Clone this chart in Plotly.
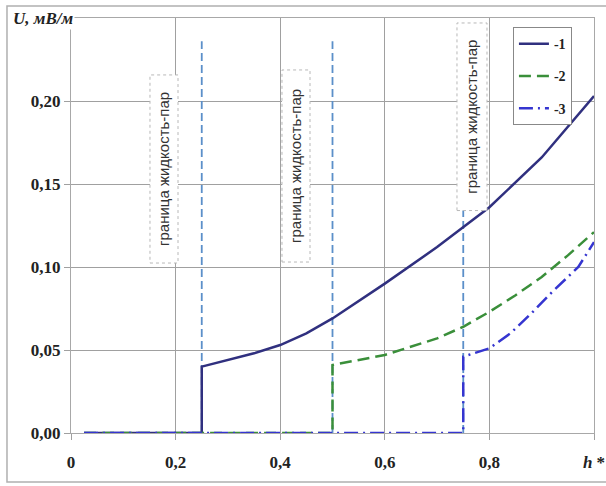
import plotly.graph_objects as go

# ---- data ----
h1 = [0.025, 0.25, 0.25, 0.30, 0.35, 0.40, 0.45, 0.50, 0.60, 0.70, 0.75, 0.80, 0.90, 1.00]
u1 = [0.0, 0.0, 0.040, 0.044, 0.048, 0.053, 0.060, 0.069, 0.090, 0.112, 0.124, 0.136, 0.166, 0.203]

h2 = [0.025, 0.50, 0.50, 0.60, 0.70, 0.75, 0.80, 0.85, 0.90, 0.95, 1.00]
u2 = [0.0, 0.0, 0.041, 0.047, 0.057, 0.064, 0.073, 0.083, 0.094, 0.107, 0.121]

h3 = [0.025, 0.75, 0.75, 0.80, 0.84, 0.88, 0.92, 0.97, 1.00]
u3 = [0.0, 0.0, 0.046, 0.051, 0.060, 0.072, 0.085, 0.100, 0.115]

series_names = ["-1", "-2", "-3"]
boundaries = [0.25, 0.50, 0.75]
boundary_top = 0.236
boundary_label = "граница жидкость-пар"

x_tickvals = [0, 0.2, 0.4, 0.6, 0.8, 1.0]
x_ticktext = ["0", "0,2", "0,4", "0,6", "0,8", "<i>h</i> *"]
y_tickvals = [0, 0.05, 0.10, 0.15, 0.20]
y_ticktext = ["0,00", "0,05", "0,10", "0,15", "0,20"]
y_title = "<b><i>U, мВ/м</i></b>"

# ---- figure ----
fig = go.Figure()

c1, c2, c3 = "#30307f", "#3a8f3a", "#3535d0"
fig.add_trace(go.Scatter(x=h1, y=u1, mode="lines", name=series_names[0], legendgroup="a",
                         line=dict(color=c1, width=2.5)))
fig.add_trace(go.Scatter(x=h2, y=u2, mode="lines", name=series_names[1], legendgroup="b",
                         line=dict(color=c2, width=2.5, dash="12px,6px")))
fig.add_trace(go.Scatter(x=h3, y=u3, mode="lines", name=series_names[2], legendgroup="c",
                         line=dict(color=c3, width=2.5, dash="14px,5px,2px,5px")))

shapes = []
for b in boundaries:
    shapes.append(dict(type="line", xref="x", yref="y", x0=b, x1=b, y0=0, y1=boundary_top,
                       line=dict(color="#5b8fc9", width=1.8, dash="8px,4px"), layer="between"))

boxes = [(0.151, 0.2046, 0.1024, 0.2157),
         (0.4034, 0.457, 0.103, 0.2187),
         (0.738, 0.7954, 0.134, 0.247)]
annotations = []
for (x0, x1, y0, y1) in boxes:
    shapes.append(dict(type="rect", xref="x", yref="y", x0=x0, x1=x1, y0=y0, y1=y1,
                       fillcolor="white", line=dict(color="#b8b8b8", width=1, dash="dot"),
                       layer="above"))
    annotations.append(dict(x=(x0 + x1) / 2, y=(y0 + y1) / 2, xref="x", yref="y",
                            text=boundary_label, textangle=-90, showarrow=False,
                            font=dict(family="Liberation Sans", size=15, color="#333333")))

# outer frame
shapes.append(dict(type="rect", xref="paper", yref="paper", x0=-0.1224, x1=1.03,
                   y0=-0.118, y1=1.029, line=dict(color="#b0b0b0", width=1.5),
                   fillcolor="rgba(0,0,0,0)", layer="below"))

annotations.append(dict(x=-0.115, y=1.0, xref="paper", yref="paper", xanchor="left",
                        yanchor="middle", text=y_title, showarrow=False, bgcolor="white",
                        font=dict(family="Liberation Serif", size=17, color="#222222")))

tickfont = dict(family="Liberation Serif", size=17, color="#222222", weight="bold")

fig.update_layout(
    width=606, height=486,
    margin=dict(l=71, r=12, t=18, b=53),
    paper_bgcolor="white", plot_bgcolor="white",
    shapes=shapes, annotations=annotations,
    showlegend=True,
    legend=dict(x=0.845, y=0.978, xanchor="left", yanchor="top",
                bgcolor="white", bordercolor="#888888", borderwidth=1,
                font=dict(family="Liberation Serif", size=14, color="#222222", weight="bold"),
                tracegroupgap=11, traceorder="grouped", itemwidth=30),
    xaxis=dict(range=[0, 1.0], tickvals=x_tickvals, ticktext=x_ticktext,
               showgrid=True, gridcolor="#a0a0a0", gridwidth=1,
               showline=True, linecolor="#a8a8a8", linewidth=1, mirror=True,
               ticks="outside", ticklen=6, tickcolor="#a0a0a0", automargin=False,
               tickfont=tickfont, zeroline=False, ticklabelstandoff=8),
    yaxis=dict(range=[0, 0.25], tickvals=y_tickvals, ticktext=y_ticktext,
               showgrid=True, gridcolor="#a0a0a0", gridwidth=1, automargin=False,
               showline=True, linecolor="#a8a8a8", linewidth=1, mirror=True,
               ticks="outside", ticklen=6, tickcolor="#a0a0a0",
               tickfont=tickfont, zeroline=False),
)

fig.write_html("out.html")
